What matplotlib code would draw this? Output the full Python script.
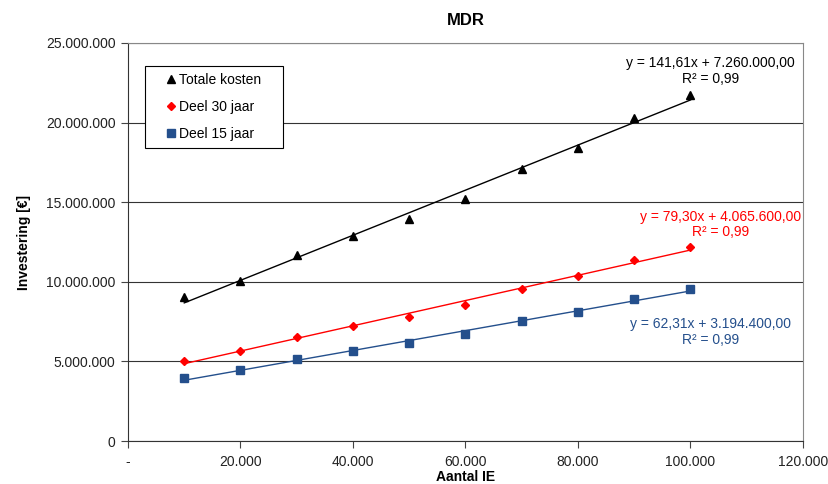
import numpy as np
import matplotlib.pyplot as plt
from matplotlib.ticker import FuncFormatter

plt.rcParams['font.family'] = ['Liberation Sans', 'DejaVu Sans']

aantal_ie = [10000, 20000, 30000, 40000, 50000, 60000, 70000, 80000, 90000, 100000]
totale_kosten = [9.05e6, 10.05e6, 11.66e6, 12.9e6, 13.93e6, 15.2e6, 17.07e6, 18.39e6, 20.29e6, 21.72e6]
deel_30 = [5.04e6, 5.65e6, 6.53e6, 7.22e6, 7.81e6, 8.54e6, 9.57e6, 10.34e6, 11.39e6, 12.19e6]
deel_15 = [3.98e6, 4.44e6, 5.13e6, 5.67e6, 6.14e6, 6.72e6, 7.52e6, 8.10e6, 8.94e6, 9.57e6]

# trendline coefficients as printed on the chart
trend_tot = (141.61, 7260000.0)
trend_30 = (79.30, 4065600.0)
trend_15 = (62.31, 3194400.0)

c_tot = 'black'
c_30 = '#FF0000'
c_15 = '#244F8C'

fig = plt.figure(figsize=(8.29, 4.84), dpi=100)
ax = fig.add_axes([0.1544, 0.0888, 0.8142, 0.8224])

x = np.array(aantal_ie)
xt = np.array([x.min(), x.max()])
for yv, (a, b), col, mk, ms, lab in [
    (totale_kosten, trend_tot, c_tot, '^', 5.8, 'Totale kosten'),
    (deel_30, trend_30, c_30, 'D', 4.3, 'Deel 30 jaar'),
    (deel_15, trend_15, c_15, 's', 5.4, 'Deel 15 jaar'),
]:
    ax.plot(x, yv, linestyle='none', marker=mk, markersize=ms, color=col, label=lab)
    ax.plot(xt, a * xt + b, color=col, linewidth=1)

ax.set_xlim(0, 120000)
ax.set_ylim(0, 25000000)
ax.set_xticks(np.arange(0, 120001, 20000))
ax.set_yticks(np.arange(0, 25000001, 5000000))
ax.xaxis.set_major_formatter(FuncFormatter(lambda v, p: '-' if v == 0 else f'{v:,.0f}'.replace(',', '.')))
ax.yaxis.set_major_formatter(FuncFormatter(lambda v, p: '0' if v == 0 else f'{v:,.0f}'.replace(',', '.')))
ax.tick_params(labelsize=10, direction='out', length=5, width=0.8, color='#444444', labelcolor='#222222')
ax.tick_params(axis='y', pad=4)
ax.tick_params(axis='x', pad=5)

ax.yaxis.grid(True, color='#333333', linewidth=0.8)
ax.set_axisbelow(True)
for s in ['top', 'right']:
    ax.spines[s].set_color('#888888')
for s in ['left', 'bottom']:
    ax.spines[s].set_color('#333333')

ax.set_title('MDR', fontsize=12, fontweight='bold', pad=13)
ax.set_xlabel('Aantal IE', fontsize=10, fontweight='bold', labelpad=1)
ax.set_ylabel('Investering [€]', fontsize=10, fontweight='bold', labelpad=11)

leg = ax.legend(loc='upper left', bbox_to_anchor=(0.0252, 0.7337, 0.2044, 0.2085), mode='expand',
                fontsize=10, fancybox=False, framealpha=1, edgecolor='black',
                handlelength=2.8, handletextpad=-0.85, borderpad=0.5, labelspacing=0.95,
                borderaxespad=0)
leg.get_frame().set_linewidth(0.8)

ax.text(0.863, 0.929, 'y = 141,61x + 7.260.000,00\nR² = 0,99', transform=ax.transAxes,
        ha='center', va='center', fontsize=10, color=c_tot, linespacing=1.15)
ax.text(0.8785, 0.544, 'y = 79,30x + 4.065.600,00\nR² = 0,99', transform=ax.transAxes,
        ha='center', va='center', fontsize=10, color=c_30, linespacing=1.15)
ax.text(0.8635, 0.274, 'y = 62,31x + 3.194.400,00\nR² = 0,99', transform=ax.transAxes,
        ha='center', va='center', fontsize=10, color=c_15, linespacing=1.15)

fig.savefig('out.png', dpi=100)
